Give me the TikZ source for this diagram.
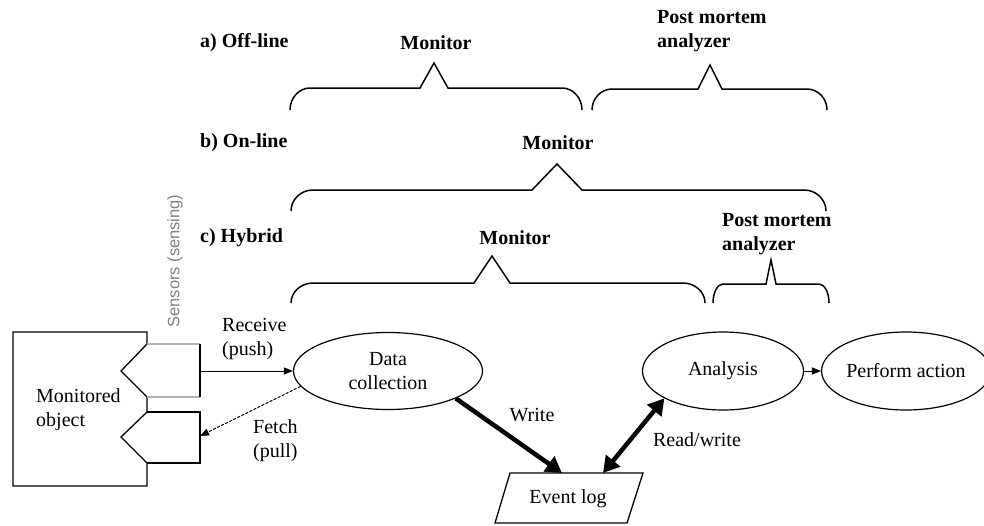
\documentclass[tikz,border=0pt]{standalone}
\usepackage{fontspec}
\setmainfont{Liberation Serif}
\newfontfamily\sensfont{Liberation Sans}
\usetikzlibrary{arrows.meta,shapes.geometric}
\newcommand{\drawbrace}[8]{% x1 x2 ytop ybot peakx peaky halfbase r
  \draw[brace] (#1,#4) .. controls (#1,{#4-0.55*(#4-#3)}) and ({#1+0.45*#8},#3) .. ({#1+#8},#3)
    -- ({#5-#7},#3) -- (#5,#6) -- ({#5+#7},#3) -- ({#2-#8},#3)
    .. controls ({#2-0.45*#8},#3) and (#2,{#4-0.55*(#4-#3)}) .. (#2,#4);}
\begin{document}
\begin{tikzpicture}[x=1pt,y=-1pt,
  txt/.style={font=\fontsize{20}{24}\selectfont, inner sep=0pt, align=left},
  btxt/.style={inner sep=0pt, align=left, font=\fontsize{20}{24}\selectfont\bfseries},
  ell/.style={draw, ellipse, line width=1.2pt, inner sep=0pt, align=center, font=\fontsize{20}{24}\selectfont},
  brace/.style={line width=1.5pt, line join=miter},
  outline/.style={line width=1.3pt},
  thinarrow/.style={line width=1pt, -{Triangle[length=9pt,width=7pt]}},
  thickarrow/.style={line width=4.5pt, -{Triangle[length=16pt,width=18pt]}},
  dblarrow/.style={line width=4.5pt, {Triangle[length=16pt,width=18pt]}-{Triangle[length=16pt,width=18pt]}}
]
\useasboundingbox (0,0) rectangle (984,525);

% --- top labels and braces ---
\node[btxt, anchor=west] (la) at (200,43) {a) Off-line};
\node[btxt] (ma) at (436,43) {Monitor};
\node[btxt, anchor=west] (pa) at (657,31) {Post mortem\\analyzer};
\drawbrace{290}{582}{88}{110}{434}{63}{14}{20}
\drawbrace{592}{827}{89}{110}{710}{65}{12}{20}

\node[btxt, anchor=west] (lb) at (200,143) {b) On-line};
\node[btxt] (mb) at (558,143) {Monitor};
\drawbrace{291}{826}{190}{211}{557}{164}{25}{22}

\node[btxt, anchor=west] (lc) at (200,238) {c) Hybrid};
\node[btxt] (mc) at (515,238) {Monitor};
\node[btxt, anchor=west] (pc) at (722,234) {Post mortem\\analyzer};
\drawbrace{291}{705}{283}{303}{492}{256}{18}{22}
\drawbrace{713}{829}{284}{303}{771}{260}{5}{10}

% --- monitored object with sensors ---
\draw[outline] (13,332) -- (147,332) -- (147,344) -- (121,371) -- (147,397) -- (147,412)
  -- (121,437) -- (147,463) -- (147,486) -- (13,486) -- cycle;
\draw[outline, gray!60] (147,344) -- (200,344);
\draw[outline, gray!60] (200,397) -- (147,397);
\draw[outline] (200,344) -- (200,397);
\draw[outline] (147,412) -- (200,412) -- (200,463) -- (147,463);
\coordinate (s1) at (200,371);
\coordinate (s2) at (200,436);
\node[txt, anchor=west] (mo) at (36,410) {Monitored\\object};
\node[font=\sensfont\fontsize{16.5}{20}\selectfont, text=gray, rotate=90, inner sep=0pt] (sens) at (175,261) {Sensors (sensing)};

% --- process nodes ---
\node[ell, minimum width=189pt, minimum height=77pt] (dc) at (388,371) {Data\\collection};
\node[ell, minimum width=161pt, minimum height=78pt] (ana) at (723,371) {Analysis};
\node[ell, minimum width=152pt, minimum height=78pt] (perf) at (906,371) {Perform action};

\draw[outline] (510,473) -- (643,473) -- (627,523) -- (495,523) -- cycle;
\node[txt] (log) at (568,499) {Event log};
\coordinate (w) at (562,473);
\coordinate (rw) at (603,473);

% --- connectors ---
\draw[thinarrow] (s1) -- (dc.west);
\draw[thinarrow, dash pattern=on 3pt off 1.5pt] (dc.190) -- (s2);
\draw[thickarrow] (dc.-22) -- (w);
\draw[dblarrow] (rw) -- (ana.205);
\draw[thinarrow] (ana.east) -- (perf.west);

% --- connector labels ---
\node[txt, anchor=west] (rcv) at (222,339) {Receive\\(push)};
\node[txt, anchor=west] (fch) at (253,441) {Fetch\\(pull)};
\node[txt] (wr) at (532,415) {Write};
\node[txt] (rwl) at (697,440) {Read/write};
\end{tikzpicture}
\end{document}
